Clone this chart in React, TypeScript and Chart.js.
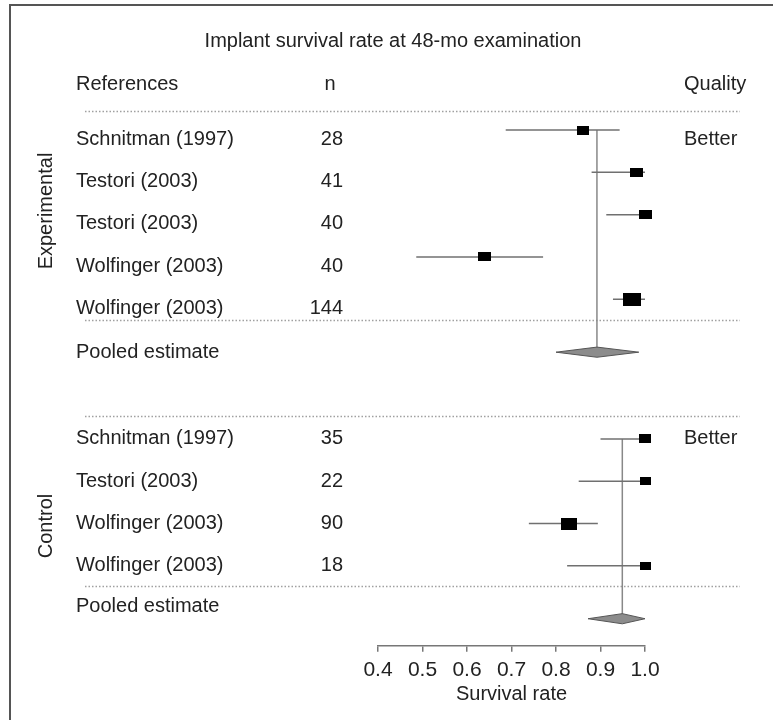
import React, { useEffect, useRef } from "react";
import { Chart, registerables } from "chart.js";

Chart.register(...registerables);

// ---------- data ----------
const expStudies = ["Schnitman (1997)", "Testori (2003)", "Testori (2003)", "Wolfinger (2003)", "Wolfinger (2003)"];
const expN = [28, 41, 40, 40, 144];
const expEst = [0.86, 0.98, 1.0, 0.64, 0.97];
const expLow = [0.687, 0.88, 0.913, 0.486, 0.928];
const expHigh = [0.943, 1.0, 1.0, 0.771, 1.0];
const expQuality = ["Better", "", "", "", ""];
const expPooled = { low: 0.8, est: 0.892, high: 0.986 };

const ctlStudies = ["Schnitman (1997)", "Testori (2003)", "Wolfinger (2003)", "Wolfinger (2003)"];
const ctlN = [35, 22, 90, 18];
const ctlEst = [1.0, 1.0, 0.829, 1.0];
const ctlLow = [0.9, 0.851, 0.739, 0.825];
const ctlHigh = [1.0, 1.0, 0.894, 1.0];
const ctlQuality = ["Better", "", "", ""];
const ctlPooled = { low: 0.872, est: 0.949, high: 1.0 };

const xTicks = [0.4, 0.5, 0.6, 0.7, 0.8, 0.9, 1.0];

const titleText = "Implant survival rate at 48-mo examination";
const headerRef = "References";
const headerN = "n";
const headerQuality = "Quality";
const pooledLabel = "Pooled estimate";
const groupLabels = ["Experimental", "Control"];
const axisTitle = "Survival rate";

// ---------- layout (row positions on the y scale) ----------
const expRows = [1, 2, 3, 4, 5];
const expPooledRow = 6.25;
const ctlRows = [8.3, 9.3, 10.3, 11.3];
const ctlPooledRow = 12.55;
const separatorRows = [0.55, 5.5, 7.76, 11.77];
const expTextShift = 0.22;
const ctlPooledTextRow = 12.27;

const FONT = '"Liberation Sans", Arial, sans-serif';
const TEXT = "#222";

function boxImage(n: number) {
  const w = Math.round(7 + 0.9 * Math.sqrt(n));
  const h = Math.round(w * 0.72);
  const c = document.createElement("canvas");
  c.width = w;
  c.height = h;
  const g = c.getContext("2d")!;
  g.fillStyle = "#000";
  g.fillRect(0, 0, w, h);
  return c;
}

const forestPlugin = {
  id: "forestText",
  beforeDatasetsDraw(chart: any) {
    const ctx = chart.ctx as CanvasRenderingContext2D;
    const ys = chart.scales.y;
    ctx.save();
    // frame
    ctx.strokeStyle = "#555";
    ctx.lineWidth = 2;
    ctx.beginPath();
    ctx.moveTo(10, 720);
    ctx.lineTo(10, 5);
    ctx.lineTo(773, 5);
    ctx.stroke();

    // dotted separators
    ctx.strokeStyle = "#a0a0a0";
    ctx.lineWidth = 1.5;
    ctx.setLineDash([1.5, 2]);
    for (const r of separatorRows) {
      const py = Math.round(ys.getPixelForValue(r)) + 0.5;
      ctx.beginPath();
      ctx.moveTo(85, py);
      ctx.lineTo(740, py);
      ctx.stroke();
    }
    ctx.setLineDash([]);

    ctx.fillStyle = TEXT;
    ctx.font = `20px ${FONT}`;
    ctx.textBaseline = "middle";

    // title + headers
    ctx.textAlign = "center";
    ctx.fillText(titleText, 393, 41);
    ctx.fillText(headerN, 330, 84);
    ctx.textAlign = "left";
    ctx.fillText(headerRef, 76, 84);
    ctx.fillText(headerQuality, 684, 84);

    const drawRows = (names: string[], ns: number[], qual: string[], rows: number[], shift: number) => {
      names.forEach((name, i) => {
        const py = ys.getPixelForValue(rows[i] + shift);
        ctx.textAlign = "left";
        ctx.fillText(name, 76, py);
        if (qual[i]) ctx.fillText(qual[i], 684, py);
        ctx.textAlign = "right";
        ctx.fillText(String(ns[i]), 343, py);
      });
    };
    drawRows(expStudies, expN, expQuality, expRows, expTextShift);
    drawRows(ctlStudies, ctlN, ctlQuality, ctlRows, 0);

    ctx.textAlign = "left";
    ctx.fillText(pooledLabel, 76, ys.getPixelForValue(expPooledRow));
    ctx.fillText(pooledLabel, 76, ys.getPixelForValue(ctlPooledTextRow));

    // rotated group labels
    const rot = (text: string, x: number, y: number) => {
      ctx.save();
      ctx.translate(x, y);
      ctx.rotate(-Math.PI / 2);
      ctx.textAlign = "center";
      ctx.fillText(text, 0, 0);
      ctx.restore();
    };
    rot(groupLabels[0], 46, 211);
    rot(groupLabels[1], 46, 526);
    ctx.restore();
  },
};

export default function App() {
  const ref = useRef<HTMLCanvasElement | null>(null);

  useEffect(() => {
    if (!ref.current) return;

    const allEst = [...expEst, ...ctlEst];
    const allRows = [...expRows, ...ctlRows];
    const allN = [...expN, ...ctlN];
    const imgs = allN.map(boxImage);
    const allLow = [...expLow, ...ctlLow];
    const allHigh = [...expHigh, ...ctlHigh];

    const ciSets = allRows.map((r, i) => ({
      data: [
        { x: allLow[i], y: r },
        { x: allHigh[i], y: r },
      ],
      showLine: true,
      borderColor: "#707070",
      borderWidth: 1.5,
      pointRadius: 0,
      clip: false as any,
      order: 1,
    }));

    const d = 0.12;
    const diamond = (p: { low: number; est: number; high: number }, r: number) => ({
      data: [
        { x: p.low, y: r },
        { x: p.est, y: r - d },
        { x: p.high, y: r },
        { x: p.est, y: r + d },
        { x: p.low, y: r },
      ],
      showLine: true,
      fill: "shape" as any,
      backgroundColor: "#8c8c8c",
      borderColor: "#555",
      borderWidth: 1,
      pointRadius: 0,
      clip: false as any,
      order: 1,
    });

    const vline = (x: number, r0: number, r1: number) => ({
      data: [
        { x, y: r0 },
        { x, y: r1 },
      ],
      showLine: true,
      borderColor: "#888",
      borderWidth: 1.5,
      pointRadius: 0,
      clip: false as any,
      order: 2,
    });

    const chart = new Chart(ref.current, {
      type: "scatter",
      data: {
        datasets: [
          {
            data: allEst.map((x, i) => ({ x, y: allRows[i] })),
            pointStyle: ((c: any) => imgs[c.dataIndex]) as any,
            pointRadius: 6,
            showLine: false,
            clip: false as any,
            order: 0,
          } as any,
          ...ciSets,
          diamond(expPooled, expPooledRow),
          diamond(ctlPooled, ctlPooledRow),
          vline(expPooled.est, expRows[0], expPooledRow),
          vline(ctlPooled.est, ctlRows[0], ctlPooledRow),
        ],
      },
      options: {
        responsive: false,
        animation: false,
        layout: { padding: { left: 378, right: 128, top: 87.75, bottom: 14 } },
        plugins: {
          legend: { display: false },
          tooltip: { enabled: false },
          title: { display: false },
        },
        scales: {
          x: {
            type: "linear",
            min: 0.4,
            max: 1.0,
            afterBuildTicks: (s: any) => {
              s.ticks = xTicks.map((v) => ({ value: v }));
            },
            grid: {
              drawOnChartArea: false,
              drawTicks: true,
              tickLength: 6,
              color: "#777",
              lineWidth: 1.5,
            },
            border: { display: true, color: "#777", width: 1.5 },
            ticks: {
              color: TEXT,
              font: { family: FONT, size: 21 },
              padding: 6,
              autoSkip: false,
              maxRotation: 0,
              callback: (v: any) => Number(v).toFixed(1),
            },
            title: {
              display: true,
              text: axisTitle,
              color: TEXT,
              font: { family: FONT, size: 20 },
              padding: { top: -7, bottom: 0 },
            },
          },
          y: {
            type: "linear",
            display: false,
            reverse: true,
            min: 0,
            max: 13.19,
          },
        },
      } as any,
      plugins: [forestPlugin],
    });

    return () => chart.destroy();
  }, []);

  return (
    <div style={{ position: "absolute", left: 0, top: 0, width: 773, height: 720, background: "#fff" }}>
      <canvas ref={ref} width={773} height={720} style={{ display: "block", width: 773, height: 720 }} />
    </div>
  );
}
